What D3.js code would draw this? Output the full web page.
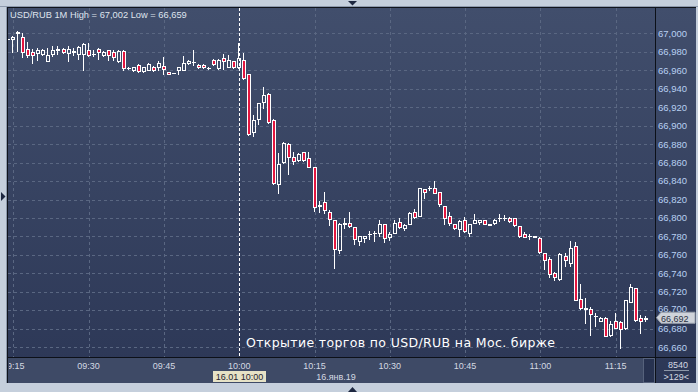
<!DOCTYPE html>
<html><head><meta charset="utf-8">
<script src="https://cdn.jsdelivr.net/npm/d3@7"></script>
<style>html,body{margin:0;padding:0;background:#c5cfdc;overflow:hidden}</style>
</head><body>
<svg id="c" width="698" height="392"></svg>
<script>
// ---------- DATA ----------
const times = ["09:14","09:15","09:16","09:17","09:18","09:19","09:20","09:21","09:22","09:23","09:24","09:25","09:26","09:27","09:28","09:29",
"09:30","09:31","09:32","09:33","09:34","09:35","09:36","09:37","09:38","09:39","09:40","09:41","09:42","09:43","09:44",
"09:45","09:46","09:47","09:48","09:49","09:50","09:51","09:52","09:53","09:54","09:55","09:56","09:57","09:58","09:59",
"10:00","10:01","10:02","10:03","10:04","10:05","10:06","10:07","10:08","10:09","10:10","10:11","10:12","10:13","10:14",
"10:15","10:16","10:17","10:18","10:19","10:20","10:21","10:22","10:23","10:24","10:25","10:26","10:27","10:28","10:29",
"10:30","10:31","10:32","10:33","10:34","10:35","10:36","10:37","10:38","10:39","10:40","10:41","10:42","10:43","10:44",
"10:45","10:46","10:47","10:48","10:49","10:50","10:51","10:52","10:53","10:54","10:55","10:56","10:57","10:58","10:59",
"11:00","11:01","11:02","11:03","11:04","11:05","11:06","11:07","11:08","11:09","11:10","11:11","11:12","11:13","11:14",
"11:15","11:16","11:17","11:18","11:19","11:20","11:21"];
const open = [66.994,66.994,67.000,66.996,66.983,66.980,66.979,66.978,66.970,66.978,66.982,66.983,66.979,66.980,66.978,66.978,
66.982,66.978,66.983,66.976,66.982,66.980,66.970,66.981,66.962,66.960,66.966,66.959,66.960,66.964,66.963,
66.965,66.958,66.957,66.960,66.960,66.968,66.969,66.966,66.966,66.962,66.971,66.962,66.973,66.963,66.970,
66.963,66.971,66.956,66.893,66.907,66.926,66.934,66.906,66.837,66.861,66.880,66.866,66.863,66.871,66.865,
66.855,66.813,66.817,66.807,66.798,66.765,66.794,66.795,66.790,66.775,66.778,66.783,66.784,66.784,66.794,
66.779,66.784,66.796,66.789,66.794,66.806,66.802,66.831,66.832,66.832,66.828,66.813,66.802,66.794,66.788,
66.798,66.784,66.795,66.796,66.798,66.792,66.795,66.800,66.800,66.800,66.800,66.791,66.783,66.780,66.781,
66.778,66.762,66.756,66.740,66.734,66.759,66.751,66.770,66.712,66.701,66.702,66.694,66.689,66.692,66.673,
66.689,66.687,66.681,66.709,66.724,66.692,66.691];
const high = [66.994,66.997,67.002,67.000,66.991,66.983,66.984,66.983,66.984,66.986,66.986,66.984,66.986,66.984,66.986,66.989,
66.990,66.982,66.984,66.981,66.982,66.982,66.982,66.982,66.963,66.964,66.967,66.964,66.968,66.965,66.970,
66.974,66.958,66.957,66.964,66.975,66.971,66.982,66.967,66.967,66.963,66.972,66.972,66.978,66.977,66.970,
66.989,66.979,66.956,66.912,66.925,66.942,66.935,66.907,66.870,66.882,66.881,66.872,66.870,66.872,66.871,
66.855,66.818,66.828,66.809,66.798,66.795,66.800,66.807,66.790,66.781,66.781,66.786,66.786,66.798,66.794,
66.785,66.798,66.800,66.794,66.806,66.810,66.833,66.831,66.835,66.840,66.828,66.813,66.806,66.794,66.798,
66.801,66.794,66.804,66.798,66.798,66.793,66.799,66.804,66.803,66.801,66.800,66.791,66.785,66.783,66.781,
66.779,66.762,66.758,66.742,66.762,66.762,66.775,66.774,66.729,66.713,66.704,66.697,66.693,66.693,66.688,
66.697,66.688,66.711,66.729,66.724,66.695,66.694];
const low = [66.994,66.980,66.981,66.974,66.974,66.968,66.971,66.977,66.970,66.975,66.978,66.979,66.970,66.977,66.972,66.960,
66.975,66.975,66.972,66.975,66.971,66.971,66.969,66.960,66.961,66.959,66.958,66.958,66.960,66.959,66.960,
66.956,66.956,66.957,66.956,66.960,66.967,66.966,66.962,66.962,66.961,66.966,66.961,66.961,66.963,66.962,
66.962,66.951,66.890,66.889,66.902,66.919,66.903,66.837,66.827,66.860,66.848,66.859,66.862,66.862,66.855,
66.808,66.807,66.805,66.792,66.746,66.762,66.789,66.790,66.772,66.771,66.774,66.777,66.775,66.781,66.774,
66.776,66.784,66.789,66.787,66.794,66.800,66.802,66.822,66.830,66.827,66.813,66.793,66.792,66.788,66.781,
66.785,66.780,66.795,66.793,66.793,66.792,66.793,66.797,66.798,66.796,66.791,66.779,66.779,66.777,66.779,
66.762,66.745,66.736,66.733,66.733,66.748,66.748,66.711,66.701,66.686,66.673,66.683,66.688,66.672,66.672,
66.681,66.659,66.680,66.709,66.689,66.676,66.688];
const close = [66.994,66.996,67.001,66.980,66.977,66.977,66.982,66.982,66.977,66.982,66.983,66.980,66.983,66.981,66.985,66.988,
66.977,66.978,66.980,66.980,66.977,66.974,66.981,66.962,66.962,66.963,66.959,66.963,66.967,66.960,66.968,
66.961,66.956,66.957,66.963,66.968,66.970,66.969,66.963,66.963,66.962,66.967,66.971,66.970,66.971,66.963,
66.973,66.952,66.891,66.906,66.924,66.933,66.904,66.838,66.859,66.881,66.866,66.862,66.869,66.863,66.855,
66.812,66.814,66.809,66.799,66.766,66.793,66.795,66.791,66.777,66.780,66.780,66.783,66.784,66.793,66.778,
66.783,66.795,66.790,66.792,66.805,66.801,66.832,66.828,66.832,66.827,66.815,66.800,66.795,66.789,66.797,
66.786,66.794,66.798,66.798,66.794,66.793,66.798,66.800,66.800,66.797,66.792,66.780,66.779,66.780,66.779,
66.763,66.755,66.739,66.736,66.761,66.754,66.768,66.711,66.703,66.703,66.696,66.694,66.692,66.672,66.685,
66.681,66.680,66.711,66.725,66.690,66.688,66.692];

const yTickValues = [67.00,66.98,66.96,66.94,66.92,66.90,66.88,66.86,66.84,66.82,66.80,66.78,66.76,66.74,66.72,66.70,66.68,66.66];
const xTickLabels = ["09:15","09:30","09:45","10:00","10:15","10:30","10:45","11:00","11:15"];
const titleText = "USD/RUB 1M High = 67,002 Low = 66,659";
const lastPrice = 66.692;
const openMarker = "10:00";
const annotation = "Открытие торгов по USD/RUB на Мос. бирже";
const cursorLabel = "16.01 10:00";
const dateLabel = "16.янв.19";
const volumeLabel = "8540";
const countLabel = ">129<";

// ---------- LAYOUT ----------
const W = 698, H = 392;
const L = 8, R = 655, T = 8, B = 357, AB = 383, PR = 696;
const svg = d3.select("#c");
const parse = d3.timeParse("%H:%M");
const x = d3.scaleTime().domain([parse("09:15"), parse("11:15")]).range([13.3, 615.7]);
const y = d3.scaleLinear().domain([66.66, 67.0]).range([347.3, 33.3]);
const fmt = v => d3.format(".3f")(v).replace(".", ",");
const FONT = "'Liberation Sans', Arial, sans-serif";

const defs = svg.append("defs");
const grad = defs.append("linearGradient").attr("id","bg").attr("x1",0).attr("y1",0).attr("x2",0).attr("y2",1);
grad.append("stop").attr("offset","0%").attr("stop-color","#414e6c");
grad.append("stop").attr("offset","100%").attr("stop-color","#2c3756");
defs.append("clipPath").attr("id","plotClip").append("rect").attr("x",L).attr("y",T).attr("width",R-L).attr("height",B-T);
defs.append("clipPath").attr("id","axClip").append("rect").attr("x",L+1).attr("y",B).attr("width",R-L-1).attr("height",AB-B);

// outer frame
svg.append("rect").attr("width",W).attr("height",H).attr("fill","#c5cfdc");
svg.append("rect").attr("x",0).attr("y",6).attr("width",W).attr("height",1).attr("fill","#8e9aad");
svg.append("rect").attr("x",6).attr("y",6).attr("width",1).attr("height",AB-6).attr("fill","#8e9aad");
// panel
svg.append("rect").attr("x",L).attr("y",T).attr("width",PR-L).attr("height",AB-T).attr("fill","url(#bg)");
svg.append("rect").attr("x",L).attr("y",B).attr("width",R-L).attr("height",AB-B).attr("fill","#3e4a66");

// grid
const grid = svg.append("g").attr("stroke","#5a6782").attr("stroke-width",1).attr("stroke-dasharray","3,3");
grid.selectAll("line.h").data(yTickValues).join("line")
  .attr("x1",L).attr("x2",R).attr("y1",d=>Math.round(y(d))+0.5).attr("y2",d=>Math.round(y(d))+0.5);
grid.selectAll("line.v").data(xTickLabels.filter(t=>t!==openMarker)).join("line")
  .attr("y1",T).attr("y2",B).attr("x1",d=>Math.round(x(parse(d)))+0.5).attr("x2",d=>Math.round(x(parse(d)))+0.5);

// open marker
svg.append("line").attr("x1",Math.round(x(parse(openMarker)))+0.5).attr("x2",Math.round(x(parse(openMarker)))+0.5)
  .attr("y1",T).attr("y2",B).attr("stroke","#ffffff").attr("stroke-dasharray","3,2");

// candles
const candles = times.map((t,i)=>({t:parse(t),o:open[i],h:high[i],l:low[i],c:close[i]}));
const cg = svg.append("g").attr("clip-path","url(#plotClip)");
const RED = "#e3163f";
candles.forEach(d=>{
  const a = Math.round(x(d.t));
  const wx = a - 0.5;
  const yt = Math.round(y(Math.max(d.o,d.c)));
  const yb = Math.round(y(Math.min(d.o,d.c)));
  const yh = Math.round(y(d.h)), yl = Math.round(y(d.l));
  const up = d.c >= d.o;
  if (yh < yt) cg.append("line").attr("x1",wx).attr("x2",wx).attr("y1",yh).attr("y2",yt).attr("stroke","#fff");
  if (yl > yb) cg.append("line").attr("x1",wx).attr("x2",wx).attr("y1",yb+1).attr("y2",yl+1).attr("stroke","#fff");
  if (yb - yt < 1) {
    cg.append("line").attr("x1",a-2).attr("x2",a+2).attr("y1",yt+0.5).attr("y2",yt+0.5).attr("stroke","#fff");
  } else {
    cg.append("rect").attr("x",a-1.5).attr("y",yt+0.5).attr("width",3).attr("height",yb-yt)
      .attr("fill", up ? "none" : RED).attr("stroke","#fff").attr("stroke-width",1);
  }
});

// annotation
svg.append("text").attr("x",246).attr("y",347).attr("fill","#ffffff")
  .attr("font-family","'DejaVu Sans', sans-serif").attr("font-size",12.5)
  .attr("textLength",309).attr("lengthAdjust","spacing").text(annotation);

// borders
svg.append("line").attr("x1",7).attr("x2",PR).attr("y1",7.5).attr("y2",7.5).attr("stroke","#10141c");
svg.append("line").attr("x1",7.5).attr("x2",7.5).attr("y1",7).attr("y2",AB).attr("stroke","#10141c");
svg.append("line").attr("x1",L).attr("x2",PR).attr("y1",B+0.5).attr("y2",B+0.5).attr("stroke","#0c1018");
svg.append("line").attr("x1",R+0.5).attr("x2",R+0.5).attr("y1",T).attr("y2",AB).attr("stroke","#0c1018");

// title
svg.append("text").attr("x",10).attr("y",18).attr("fill","#dfe4ee").attr("font-family",FONT).attr("font-size",9.3).text(titleText);

// y axis labels (the one hidden behind the price tag is nudged up a little)
const py = y(lastPrice);
svg.append("g").selectAll("text").data(yTickValues).join("text")
  .attr("x",658).attr("y",d=>Math.abs(y(d)-py) < 10 ? y(d)-1.8 : y(d)).attr("dy","0.36em").attr("fill","#b8d0f2")
  .attr("font-family",FONT).attr("font-size",9.5).text(d=>fmt(d));

// last price tag
svg.append("path").attr("d",`M656.5,${py} L661,${py-5.5} L695,${py-5.5} L695,${py+5.5} L661,${py+5.5} Z`)
  .attr("fill","#cfd3da").attr("stroke","#9aa2ae");
svg.append("text").attr("x",661).attr("y",py+1).attr("dy","0.36em").attr("fill","#2a3040")
  .attr("font-family",FONT).attr("font-size",9).text(fmt(lastPrice));

// x axis labels
const xa = svg.append("g").attr("clip-path","url(#axClip)");
xa.selectAll("text").data(xTickLabels).join("text")
  .attr("x",d=>x(parse(d))).attr("y",369).attr("text-anchor","middle").attr("fill","#d4d9e2")
  .attr("font-family",FONT).attr("font-size",9).text(d=>d);
// cursor label
svg.append("rect").attr("x",213).attr("y",371).attr("width",53).attr("height",11).attr("fill","#e6e2c6");
svg.append("text").attr("x",239.5).attr("y",380).attr("text-anchor","middle").attr("fill","#1e2230")
  .attr("font-family",FONT).attr("font-size",9).text(cursorLabel);
svg.append("text").attr("x",336).attr("y",380).attr("text-anchor","middle").attr("fill","#d4d9e2")
  .attr("font-family",FONT).attr("font-size",9).text(dateLabel);

// small box bottom right
svg.append("rect").attr("x",643.5).attr("y",358.5).attr("width",11).attr("height",24).attr("fill","#273250").attr("stroke","#56627c");
// volume / count
svg.append("text").attr("x",688).attr("y",368).attr("text-anchor","end").attr("fill","#d4d9e2")
  .attr("font-family",FONT).attr("font-size",9).text(volumeLabel);
svg.append("line").attr("x1",664).attr("x2",689).attr("y1",370.5).attr("y2",370.5).attr("stroke","#8d97a8");
svg.append("text").attr("x",689).attr("y",380).attr("text-anchor","end").attr("fill","#d4d9e2")
  .attr("font-family",FONT).attr("font-size",9).text(countLabel);

// triangles
const tri = "#1d2740";
svg.append("path").attr("d","M348,1 L357,1 L352.5,5.5 Z").attr("fill",tri);
svg.append("path").attr("d","M1,192 L1,201 L5.5,196.5 Z").attr("fill",tri);
svg.append("path").attr("d","M348,392 L357,392 L352.5,387 Z").attr("fill",tri);
</script>
</body></html>
